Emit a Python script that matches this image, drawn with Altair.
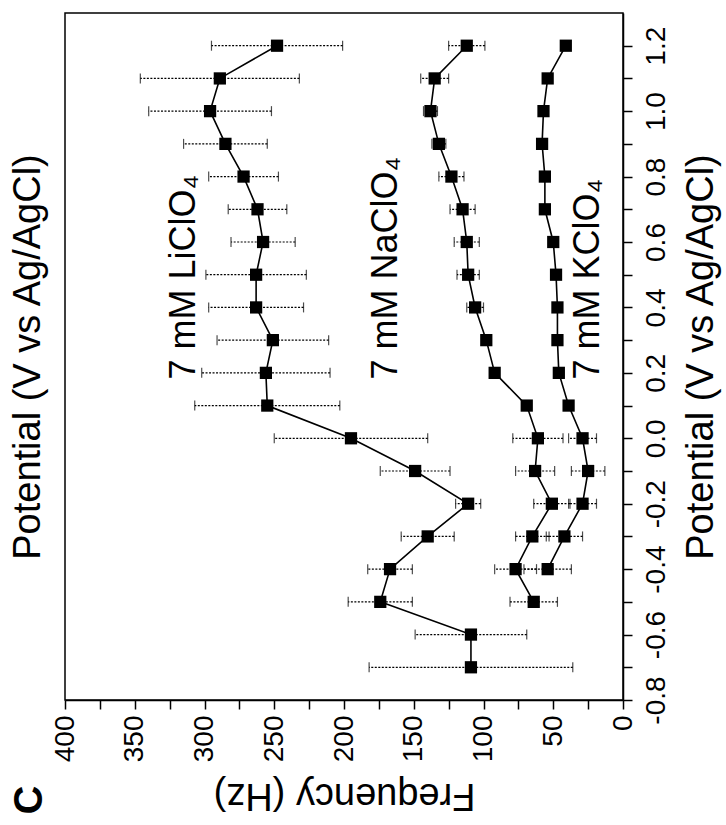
import altair as alt
import pandas as pd

FONT = "Liberation Sans"

# ---- data ----
pot_li = [-0.7, -0.6, -0.5, -0.4, -0.3, -0.2, -0.1, 0.0, 0.1, 0.2,
          0.3, 0.4, 0.5, 0.6, 0.7, 0.8, 0.9, 1.0, 1.1, 1.2]
freq_li = [109, 109, 174, 167, 140, 111, 149, 195, 255, 256,
           251, 263, 263, 258, 262, 272, 285, 296, 289, 248]
err_li = [73, 40, 23, 16, 19, 9, 25, 55, 52, 46,
          40, 34, 36, 23, 21, 25, 30, 44, 57, 47]

pot_na = [-0.5, -0.4, -0.3, -0.2, -0.1, 0.0, 0.1, 0.2, 0.3,
          0.4, 0.5, 0.6, 0.7, 0.8, 0.9, 1.0, 1.1, 1.2]
freq_na = [64, 77, 65, 51, 63, 61, 69, 92, 98,
           106, 111, 112, 115, 123, 132, 138, 135, 112]
err_na = [17, 15, 12, 13, 14, 18, 3, 3, 3,
          6, 8, 9, 9, 9, 5, 5, 10, 13]

pot_k = [-0.4, -0.3, -0.2, -0.1, 0.0, 0.1, 0.2, 0.3,
         0.4, 0.5, 0.6, 0.7, 0.8, 0.9, 1.0, 1.1, 1.2]
freq_k = [54, 42, 29, 25, 29, 39, 46, 47,
          47, 48, 50, 56, 56, 58, 57, 54, 41]
err_k = [17, 13, 10, 12, 10, 3, 2, 0,
         0, 0, 0, 0, 0, 0, 0, 0, 0]

label_texts = ["7 mM LiClO\u2084", "7 mM NaClO\u2084", "7 mM KClO\u2084"]
label_freq = [315, 170, 25]
label_pot = [0.18, 0.18, 0.18]

pot_ticks = [-0.8, -0.7, -0.6, -0.5, -0.4, -0.3, -0.2, -0.1, 0.0, 0.1, 0.2,
             0.3, 0.4, 0.5, 0.6, 0.7, 0.8, 0.9, 1.0, 1.1, 1.2]
freq_ticks = [0, 25, 50, 75, 100, 125, 150, 175, 200, 225, 250, 275, 300,
              325, 350, 375, 400]

rows = []
for name, P, F, E in [("LiClO4", pot_li, freq_li, err_li),
                      ("NaClO4", pot_na, freq_na, err_na),
                      ("KClO4", pot_k, freq_k, err_k)]:
    for p, f, e in zip(P, F, E):
        rows.append({"series": name, "potential": p, "freq": f,
                     "lo": f - e, "hi": f + e, "err": e})
df = pd.DataFrame(rows)
df_err = df[df["err"] > 0]

lab_df = pd.DataFrame({"text": label_texts, "f": label_freq, "p": label_pot})

xscale = alt.Scale(domain=[0, 400], reverse=True, nice=False, zero=False)
yscale = alt.Scale(domain=[-0.8, 1.3], nice=False, zero=False)

x_axis = alt.Axis(
    orient="bottom", title="Frequency (Hz)", values=freq_ticks,
    labelExpr="datum.value % 50 == 0 ? datum.label : ''",
    labelAngle=270, labelAlign="right", labelBaseline="middle",
    labelFontSize=28, labelFont=FONT, labelColor="black", labelPadding=6,
    tickSize=9, tickColor="black", tickWidth=1.5,
    domainColor="black", domainWidth=1.5, grid=False,
    titleAngle=180, titleFontSize=38, titleFont=FONT, titleFontWeight="normal",
    titleColor="black", titlePadding=14, titleBaseline="bottom",
)
y_axis_right = alt.Axis(
    orient="right", title="Potential (V vs Ag/AgCl)", values=pot_ticks,
    labelExpr="abs(round(datum.value*10)) % 2 == 0 ? replace(format(datum.value, '.1f'), '\u2212', '-') : ''",
    labelAngle=270, labelAlign="center", labelBaseline="top",
    labelFontSize=28, labelFont=FONT, labelColor="black", labelPadding=10,
    tickSize=9, tickColor="black", tickWidth=1.5,
    domainColor="black", domainWidth=1.5, grid=False,
    titleAngle=270, titleFontSize=38, titleFont=FONT, titleFontWeight="normal",
    titleColor="black", titlePadding=50,
)
y_axis_left = alt.Axis(
    orient="left", title="Potential (V vs Ag/AgCl)", labels=False, ticks=False,
    domain=False, grid=False,
    titleAngle=270, titleFontSize=38, titleFont=FONT, titleFontWeight="normal",
    titleColor="black", titlePadding=18,
)


def X(field, axis=None):
    return alt.X(field, type="quantitative", scale=xscale, axis=axis)


def Y(field, axis=None):
    return alt.Y(field, type="quantitative", scale=yscale, axis=axis)


lines = alt.Chart(df).mark_line(color="black", strokeWidth=1.6).encode(
    x=X("freq", x_axis), y=Y("potential", y_axis_right),
    detail="series:N", order="potential:Q")

rules = alt.Chart(df_err).mark_rule(color="black", strokeWidth=1.2,
                                    strokeDash=[2, 1.5]).encode(
    x=X("lo"), x2="hi", y=Y("potential"))

cap_lo = alt.Chart(df_err).mark_tick(color="black", orient="vertical",
                                     size=10, thickness=1.2).encode(
    x=X("lo"), y=Y("potential"))
cap_hi = alt.Chart(df_err).mark_tick(color="black", orient="vertical",
                                     size=10, thickness=1.2).encode(
    x=X("hi"), y=Y("potential"))

points = alt.Chart(df).mark_square(color="black", opacity=1, size=150).encode(
    x=X("freq"), y=Y("potential"))

left_axis_layer = alt.Chart(df).mark_point(opacity=0).encode(
    x=X("freq"), y=Y("potential", y_axis_left))

labels = alt.Chart(lab_df).mark_text(
    angle=270, align="left", baseline="middle", fontSize=36, font=FONT,
    color="black").encode(x=X("f"), y=Y("p"), text="text:N")

panel = alt.Chart(pd.DataFrame({"t": ["C"]})).mark_text(
    angle=270, align="center", baseline="middle", fontSize=40, font=FONT,
    fontWeight="bold", color="black").encode(
    x=alt.value(-35), y=alt.value(787), text="t:N")

chart = alt.layer(
    lines, rules, cap_lo, cap_hi, points, left_axis_layer, labels, panel
).resolve_axis(x="independent", y="independent").properties(
    width=558, height=687,
    autosize=alt.AutoSizeParams(type="none"),
    padding={"left": 65, "top": 13, "right": 103, "bottom": 125},
).configure_view(stroke="black", strokeWidth=1.5)

chart.save("out.html", embed_options={"renderer": "svg", "actions": False})
